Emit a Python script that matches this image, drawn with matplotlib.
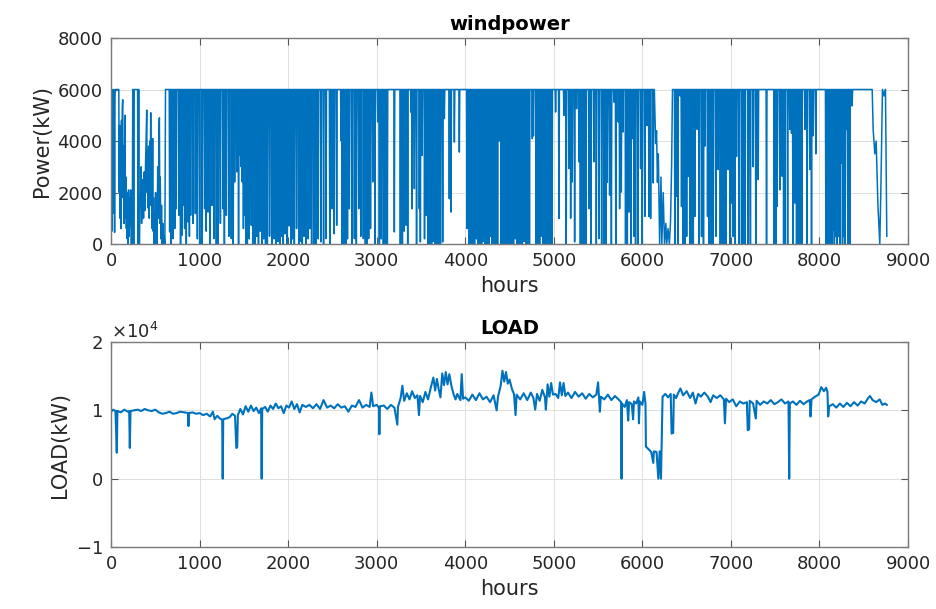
import matplotlib

matplotlib.use("Agg")
import numpy as np
from matplotlib import pyplot as plt
from matplotlib.ticker import ScalarFormatter

# ---- wind power (kW) ----
rated_kw = 6000

# first weeks: output wanders below rated power
ramp_hours = [0, 5, 10, 15, 20, 25, 30, 35, 40, 45,
              50, 60, 70, 80, 88, 92, 97, 102, 108, 113,
              118, 122, 127, 132, 137, 142, 147, 152, 158, 163,
              168, 173, 178, 183, 188, 193, 198, 205, 210, 215,
              222, 230, 235, 240, 245, 250, 256, 262, 300, 305,
              312, 320, 328, 335, 340, 345, 352, 360, 367, 375,
              382, 390, 396, 403, 408, 412, 418, 425, 431, 438,
              443, 448, 453, 458, 464, 470, 475, 480, 486, 490,
              497, 503, 510, 515, 520, 527, 535, 540, 546, 551,
              556, 563, 570, 578, 585, 592, 600, 608, 615, 640]
ramp_kw = [1500, 6000, 500, 6000, 4000, 6000, 1200, 6000, 450, 5800,
           6000, 6000, 6000, 6000, 6000, 2000, 4600, 1000, 3500, 600,
           4800, 1800, 5300, 5600, 2000, 3800, 800, 2900, 5000, 1000,
           2600, 600, 2000, 200, 1800, 0, 2100, 300, 1800, 700,
           2100, 0, 1500, 0, 6000, 6000, 0, 6000, 6000, 0,
           6000, 0, 2000, 1500, 3000, 800, 2500, 2200, 1000, 2800,
           1300, 3200, 4000, 5200, 2000, 3600, 1400, 3800, 1000, 4000,
           1800, 5100, 1500, 3800, 600, 4100, 500, 1800, 0, 1200,
           0, 2000, 300, 1500, 0, 3000, 1000, 4500, 4900, 800,
           2600, 200, 1500, 0, 800, 0, 300, 0, 6000, 6000]

# low spell around hour 6200
valley_hours = [6135, 6150, 6160, 6170, 6180, 6195, 6210, 6220, 6235, 6250, 6265, 6275,
                6290, 6305, 6318, 6330, 6340]
valley_kw = [6000, 3900, 4400, 2400, 3500, 0, 2600, 0, 2000, 0, 800, 0,
             600, 0, 900, 3000, 6000]

# last days of the year
tail_hours = [8595, 8606, 8625, 8640, 8660, 8681, 8695, 8711, 8730, 8745, 8760]
tail_kw = [6000, 4450, 3500, 4000, 1500, 0, 2500, 6000, 5750, 6000, 300]

# short drops from rated power: hour and lowest value
dip_hours = [
    662, 680, 700, 720, 737, 767, 785, 801, 815, 831,
    850, 869, 885, 899, 925, 952, 975, 1001, 1030, 1057,
    1075, 1095, 1120, 1140, 1163, 1189, 1210, 1235, 1264, 1280,
    1302, 1330, 1358, 1380, 1396, 1420, 1440, 1452, 1470, 1482,
    1495, 1509, 1525, 1539, 1560, 1584, 1600, 1625, 1645, 1665,
    1685, 1705, 1725, 1745, 1765, 1790, 1815, 1840, 1865, 1885,
    1905, 1925, 1945, 1965, 1985, 2010, 2030, 2050, 2070, 2095,
    2120, 2140, 2160, 2180, 2200, 2225,
    2245, 2265, 2290, 2315, 2340, 2371, 2400, 2428, 2470, 2496,
    2520, 2548, 2597, 2608, 2630, 2654, 2670, 2691, 2720, 2748,
    2770, 2797, 2820, 2849, 2872, 2890, 2909, 2930, 2955, 2980,
    3011, 3030, 3050, 3075, 3090, 3105, 3120, 3199, 3267, 3290,
    3310, 3331, 3350, 3387, 3399, 3425, 3450, 3481, 3493, 3512,
    3540, 3557, 3580, 3600, 3620, 3640, 3660, 3680, 3700, 3720,
    3745, 3764, 3820, 3839, 3877, 3933, 4020, 4045, 4065, 4085,
    4105, 4125, 4145, 4165, 4185, 4205, 4225, 4245, 4265, 4285,
    4305, 4325, 4345, 4365, 4385, 4405, 4425, 4445, 4465,
    4485, 4505, 4525, 4545, 4565, 4585, 4605, 4625, 4645, 4665,
    4685, 4705, 4725, 4757, 4770, 4800, 4820, 4840, 4860, 4880,
    4900, 4920, 4940, 4960, 4980, 5020, 5058, 5114, 5140, 5171,
    5190, 5208, 5235, 5257, 5284, 5300, 5321, 5341, 5362, 5397,
    5420, 5453, 5480, 5510, 5540, 5566, 5590, 5604, 5630, 5650,
    5679, 5700, 5728, 5743, 5762, 5780, 5810, 5830, 5848, 5870,
    5886, 5905, 5923, 5950, 5980, 5999, 6028, 6050, 6074, 6093,
    6123,
    6367, 6386, 6400, 6424, 6442, 6460, 6480, 6500, 6518, 6540,
    6555, 6575, 6593, 6619, 6640, 6668, 6690, 6706, 6736, 6755,
    6774, 6800, 6830, 6856, 6880, 6900, 6920, 6945, 6969, 6990,
    7007, 7026, 7045, 7063, 7090, 7120, 7140, 7160, 7195, 7220,
    7251, 7281, 7308, 7402, 7489, 7510, 7522, 7552, 7579, 7595,
    7609, 7640, 7665, 7684, 7700, 7722, 7741, 7760, 7778, 7800,
    7835, 7860, 7891, 7910, 7929, 7959, 8072, 8085, 8098, 8110,
    8124, 8140, 8155, 8168, 8181, 8195, 8211, 8230, 8249, 8260,
    8275, 8290, 8305, 8320, 8343, 8369,
]
dip_kw = [
    470, 0, 210, 600, 1370, 1115, 0, 340, 1500, 600,
    0, 860, 300, 1115, 800, 1180, 200, 0, 0, 1370,
    500, 1240, 0, 1500, 210, 0, 0, 800, 1370, 0,
    1115, 300, 210, 0, 2410, 2800, 0, 3440, 3000, 2410,
    600, 1115, 0, 0, 200, 730, 0, 0, 300, 0,
    500, 0, 200, 0, 0, 300, 0, 200, 0, 100,
    0, 300, 0, 400, 0, 700, 0, 200, 0, 600,
    0, 100, 0, 300, 0, 200,
    600, 0, 0, 0, 200, 80, 0, 210, 0, 1370,
    400, 730, 4020, 0, 0, 0, 200, 1370, 0, 210,
    0, 1370, 300, 210, 0, 0, 210, 600, 2410, 0,
    4740, 0, 200, 0, 0, 0, 0, 470, 0, 0,
    500, 730, 0, 5120, 1370, 2150, 0, 1370, 80, 3440,
    200, 1115, 0, 0, 0, 100, 0, 0, 0, 0,
    80, 4870, 1760, 1240, 3960, 3570, 600, 0, 0, 0,
    0, 200, 0, 0, 0, 100, 0, 0, 0, 300,
    0, 0, 0, 0, 4000, 0, 0, 0, 0,
    0, 0, 0, 0, 200, 0, 0, 0, 0, 100,
    0, 0, 0, 4090, 4200, 0, 0, 0, 300, 0,
    0, 0, 0, 0, 0, 5125, 990, 4995, 0, 2930,
    1000, 2410, 80, 5255, 3190, 0, 0, 0, 0, 1370,
    0, 3190, 0, 210, 0, 0, 0, 2400, 1900, 0,
    5510, 0, 4740, 1370, 2020, 4350, 0, 0, 1240, 0,
    4090, 300, 0, 0, 2930, 0, 1070, 4600, 1070, 990,
    2370,
    0, 1850, 0, 5750, 1460, 0, 0, 300, 2630, 0,
    0, 0, 1070, 4450, 0, 290, 0, 3800, 1070, 0,
    0, 0, 300, 2890, 0, 0, 0, 0, 2890, 0,
    1590, 290, 0, 3400, 0, 0, 0, 0, 0, 0,
    3000, 0, 2500, 0, 0, 0, 1460, 2100, 2630, 0,
    0, 0, 4450, 4300, 0, 1590, 0, 0, 0, 0,
    4450, 0, 2890, 0, 4200, 3500, 0, 0, 0, 0,
    0, 0, 550, 0, 290, 0, 290, 0, 3150, 0,
    290, 0, 4450, 0, 0, 5360,
]

# ---- load (kW) ----
load_hours = [
    0, 25, 50, 65, 72, 110, 150, 190, 205, 212, 220, 260, 300, 340, 380, 420, 460, 500,
    540, 580, 620, 660, 700, 740, 780, 830, 870, 875, 880, 920, 960, 1000, 1040, 1080,
    1120, 1150, 1170, 1200, 1230, 1255, 1261, 1267, 1300, 1340, 1370, 1400, 1415, 1425,
    1432, 1460, 1490, 1520, 1550, 1580, 1610, 1640, 1670, 1695, 1701, 1707, 1740, 1770,
    1800, 1830, 1860, 1890, 1920, 1950, 1980, 2010, 2040, 2070, 2100, 2130, 2160, 2200,
    2240, 2280, 2320, 2360, 2400, 2440, 2480, 2520, 2560, 2600, 2640, 2680, 2720, 2760,
    2800, 2840, 2880, 2920, 2940, 2960, 3000, 3025, 3030, 3036, 3080, 3120, 3160, 3200,
    3233, 3240, 3270, 3290, 3310, 3340, 3370, 3400, 3430, 3460, 3477, 3490, 3520, 3550,
    3580, 3610, 3640, 3660, 3680, 3700, 3720, 3740, 3760, 3780, 3800, 3820, 3845, 3870,
    3890, 3910, 3945, 3960, 3975, 4000, 4040, 4080, 4120, 4160, 4200, 4240, 4280, 4320,
    4354, 4370, 4400, 4420, 4440, 4460, 4480, 4500, 4530, 4550, 4568, 4580, 4620, 4660,
    4700, 4740, 4770, 4790, 4810, 4840, 4870, 4900, 4910, 4930, 4950, 4970, 4990, 5020,
    5050, 5070, 5090, 5110, 5130, 5160, 5200, 5240, 5280, 5320, 5360, 5400, 5440, 5480,
    5500, 5510, 5520, 5530, 5570, 5610, 5650, 5690, 5730, 5760, 5765, 5770, 5800, 5825,
    5840, 5850, 5880, 5895, 5905, 5930, 5955, 5961, 5970, 6000, 6020, 6035, 6040, 6070,
    6100, 6123, 6130, 6160, 6180, 6195, 6210, 6228, 6260, 6290, 6320, 6330, 6348, 6355,
    6380, 6410, 6430, 6460, 6500, 6540, 6570, 6600, 6630, 6660, 6700, 6740, 6770, 6800,
    6840, 6880, 6920, 6932, 6945, 6980, 7020, 7060, 7100, 7140, 7180, 7190, 7205, 7212,
    7250, 7281, 7290, 7330, 7370, 7410, 7450, 7490, 7530, 7570, 7610, 7650, 7658, 7665,
    7700, 7740, 7780, 7820, 7860, 7890, 7899, 7910, 7950, 7990, 8020, 8050, 8075, 8090,
    8098, 8110, 8150, 8190, 8230, 8270, 8310, 8350, 8390, 8430, 8470, 8510, 8550, 8570,
    8600, 8640, 8680, 8710, 8740, 8760,
]
load_kw = [
    9800, 10100, 9900, 3800, 9900, 9700, 10100, 9800, 9900, 4500, 9900, 10000, 10100, 9900,
    10200, 10000, 9900, 10100, 9700, 9500, 9600, 9800, 9500, 9600, 9800, 9700, 9600, 7700,
    9600, 9700, 9500, 9600, 9300, 9500, 9100, 9800, 8700, 9200, 8800, 8600, 0, 8700, 8800,
    9000, 9500, 9200, 4500, 4600, 9300, 10200, 9400, 10600, 9800, 10700, 9900, 10400, 9600,
    10300, 0, 10200, 10500, 9800, 10700, 10200, 11000, 10300, 10600, 9600, 10700, 10400,
    11300, 10200, 10900, 9700, 10800, 10500, 10800, 10300, 10900, 10200, 11500, 10400, 10700,
    10300, 10900, 10400, 10600, 9800, 10700, 10500, 11500, 10400, 10800, 10500, 12600, 10600,
    10800, 10400, 6500, 10600, 10700, 10200, 10800, 10400, 7900, 10500, 11800, 13600, 11400,
    12500, 11600, 12800, 11800, 12200, 9300, 12100, 11200, 12700, 11600, 13300, 14800, 12900,
    14600, 13100, 11900, 15400, 13700, 15600, 13800, 15300, 13500, 12300, 11600, 12400, 11500,
    15300, 11700, 11900, 11400, 12300, 11500, 12500, 11600, 12000, 11200, 12200, 10000, 12000,
    13600, 15800, 14200, 15600, 13900, 14500, 13000, 12400, 9300, 12300, 11600, 12500, 11500,
    12600, 11800, 10100, 12400, 11400, 13000, 11900, 10100, 13800, 12000, 14000, 12300, 12400,
    11800, 14100, 12200, 14000, 12100, 12600, 11800, 12700, 12000, 12500, 11700, 12400, 11900,
    12300, 14100, 12000, 9800, 12000, 11600, 12300, 11500, 12100, 11600, 11200, 0, 11000,
    10500, 11500, 8500, 11200, 10900, 8700, 11300, 11000, 11900, 8100, 11300, 10800, 12700,
    11000, 4700, 4300, 3900, 2300, 4000, 3900, 0, 4000, 0, 12000, 12400, 11900, 12400, 6600,
    6700, 12300, 11800, 12700, 13200, 12200, 12800, 11800, 12600, 11000, 12400, 12000, 12600,
    12000, 11200, 12200, 11800, 12200, 11600, 8100, 11700, 11200, 11600, 10600, 11300, 11000,
    11200, 7100, 7200, 11400, 11000, 8800, 11400, 10800, 11300, 11000, 11500, 10900, 11200,
    11600, 11000, 11300, 0, 11000, 11300, 10800, 11400, 10900, 11300, 11500, 9100, 11600,
    12000, 12300, 13400, 12800, 13300, 12700, 9100, 10600, 10900, 10400, 11000, 10500, 11100,
    10600, 11200, 10700, 11300, 11000, 11800, 12100, 11500, 11200, 11600, 10800, 11000, 10800,
]

hour_ticks = np.arange(0, 9001, 1000)
line_color = "#0072BD"
text_color = "#262626"


def wind_trace():
    # rated plateau between the read dips, with the read low stretches spliced in
    pts = list(zip(ramp_hours, ramp_kw))
    pts += list(zip(valley_hours, valley_kw))
    pts += list(zip(tail_hours, tail_kw))
    for h, low in zip(dip_hours, dip_kw):
        pts += [(h - 5, rated_kw), (h, low), (h + 5, rated_kw)]
    pts.sort(key=lambda p: p[0])
    arr = np.array(pts, dtype=float)
    return arr[:, 0], arr[:, 1]


def style_axes(ax):
    ax.grid(True, color="#dedede", linewidth=0.7)
    ax.set_axisbelow(True)
    for sp in ax.spines.values():
        sp.set_color("#7a7a7a")
        sp.set_linewidth(1.0)
    ax.tick_params(direction="in", length=5, width=0.8, color="#555555",
                   top=True, right=True, labelsize=13, labelcolor=text_color, pad=6)
    ax.set_xlim(0, 9000)
    ax.set_xticks(hour_ticks)
    ax.set_xlabel("hours", fontsize=15, color=text_color, labelpad=4)


plt.rcParams["font.family"] = ["DejaVu Sans"]

fig = plt.figure(figsize=(9.37, 6.09), dpi=100)
ax1 = fig.add_axes([0.1185, 0.5993, 0.8506, 0.3383])
ax2 = fig.add_axes([0.1185, 0.1018, 0.8506, 0.3366])

wx, wy = wind_trace()
ax1.plot(wx, wy, color=line_color, linewidth=1.1)
style_axes(ax1)
ax1.set_ylim(0, 8000)
ax1.set_yticks([0, 2000, 4000, 6000, 8000])
ax1.set_ylabel("Power(kW)", fontsize=15, color=text_color)
ax1.set_title("windpower", fontsize=14, fontweight="bold", pad=6)

ax2.plot(load_hours, load_kw, color=line_color, linewidth=1.5)
style_axes(ax2)
ax2.set_ylim(-10000, 20000)
ax2.set_yticks([-10000, 0, 10000, 20000])
fmt = ScalarFormatter(useMathText=True)
fmt.set_powerlimits((0, 0))
ax2.yaxis.set_major_formatter(fmt)
ax2.yaxis.get_offset_text().set_fontsize(13)
ax2.yaxis.get_offset_text().set_color(text_color)
ax2.set_ylabel("LOAD(kW)", fontsize=15, color=text_color)
ax2.set_title("LOAD", fontsize=14, fontweight="bold", pad=6)

fig.savefig("out.png", dpi=100)
